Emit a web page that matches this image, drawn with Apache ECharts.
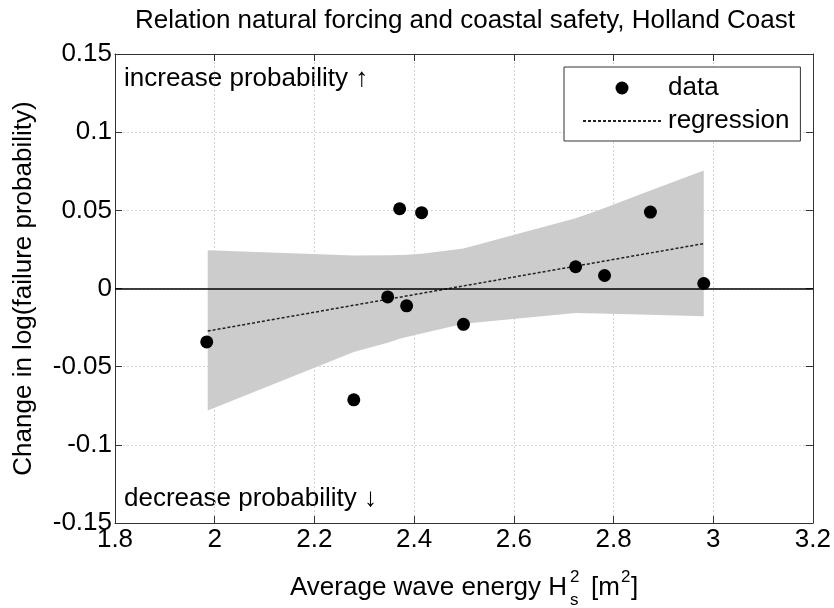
<!DOCTYPE html>
<html>
<head>
<meta charset="utf-8">
<script src="https://cdn.jsdelivr.net/npm/echarts@6/dist/echarts.min.js"></script>
<style>html,body{margin:0;padding:0;background:#fff}#c{width:834px;height:608px}</style>
</head>
<body>
<div id="c"></div>
<script>
// ---- data ----
const dataX = [1.984, 2.279, 2.347, 2.371, 2.385, 2.415, 2.499, 2.724, 2.782, 2.874, 2.981];
const dataY = [-0.0342, -0.0712, -0.0054, 0.0510, -0.0111, 0.0485, -0.0229, 0.0139, 0.0083, 0.0489, 0.0032];
const regX = [1.986, 2.982];
const regY = [-0.0272, 0.0288];
const bandX = [1.986, 2.279, 2.347, 2.371, 2.385, 2.415, 2.499, 2.724, 2.770, 2.874, 2.981];
const bandUpper = [0.0245, 0.0211, 0.0212, 0.0214, 0.0216, 0.0222, 0.0256, 0.0449, 0.0500, 0.0627, 0.0754];
const bandLower = [-0.0780, -0.0406, -0.0347, -0.0322, -0.0310, -0.0288, -0.0225, -0.0156, -0.0160, -0.0168, -0.0178];
const xTicks = {min: 1.8, max: 3.2, interval: 0.2};
const yTicks = {min: -0.15, max: 0.15, interval: 0.05};

const FONT = '"Liberation Sans", Arial, sans-serif';
const FS = 26;
const chart = echarts.init(document.getElementById('c'), null, {renderer: 'canvas'});

const scatterData = dataX.map((x, i) => [x, dataY[i]]);
const regData = regX.map((x, i) => [x, regY[i]]);

const axisLineStyle = {color: '#333', width: 1};
const baseX = {
  type: 'value', min: xTicks.min, max: xTicks.max, interval: xTicks.interval,
  axisLine: {show: true, onZero: false, lineStyle: axisLineStyle},
  axisTick: {show: true, inside: true, length: 7, lineStyle: axisLineStyle}
};
const baseY = {
  type: 'value', min: yTicks.min, max: yTicks.max, interval: yTicks.interval,
  axisLine: {show: true, onZero: false, lineStyle: axisLineStyle},
  axisTick: {show: true, inside: true, length: 7, lineStyle: axisLineStyle}
};

const option = {
  animation: false,
  backgroundColor: '#fff',
  textStyle: {fontFamily: FONT},
  grid: {left: 115, right: 19, top: 54, bottom: 85, containLabel: false},
  xAxis: [
    Object.assign({}, baseX, {
      position: 'bottom',
      axisLabel: {show: true, margin: 4, color: '#000', fontSize: FS, fontFamily: FONT},
      splitLine: {show: true, lineStyle: {color: '#d4d4d4', type: [2, 2], width: 1}}
    }),
    Object.assign({}, baseX, {
      position: 'top',
      axisLabel: {show: false},
      splitLine: {show: false}
    })
  ],
  yAxis: [
    Object.assign({}, baseY, {
      position: 'left',
      name: 'Change in log(failure probability)',
      nameLocation: 'middle', nameGap: 78,
      nameTextStyle: {fontSize: FS, color: '#000', fontFamily: FONT},
      axisLabel: {show: true, margin: 3, color: '#000', fontSize: FS, fontFamily: FONT},
      splitLine: {show: true, lineStyle: {color: '#d4d4d4', type: [2, 2], width: 1}}
    }),
    Object.assign({}, baseY, {
      position: 'right',
      axisLabel: {show: false},
      splitLine: {show: false}
    })
  ],
  legend: {
    data: [
      {name: 'data'},
      {name: 'regression', itemStyle: {opacity: 0}}
    ],
    orient: 'vertical',
    left: 564, top: 67,
    padding: [8, 11, 7, 18],
    itemWidth: 78, itemHeight: 13, itemGap: 7,
    backgroundColor: '#fff',
    borderColor: '#333', borderWidth: 1, borderRadius: 0,
    textStyle: {fontSize: FS, color: '#000', fontFamily: FONT, lineHeight: 26, padding: [0, 0, 0, 2]}
  },
  series: [
    {
      name: 'band',
      type: 'custom',
      silent: true,
      z: 1,
      data: [[bandX[0], bandUpper[0]]],
      renderItem: function (params, api) {
        const pts = [];
        for (let i = 0; i < bandX.length; i++) pts.push(api.coord([bandX[i], bandUpper[i]]));
        for (let i = bandX.length - 1; i >= 0; i--) pts.push(api.coord([bandX[i], bandLower[i]]));
        return {type: 'polygon', shape: {points: pts}, style: {fill: '#cccccc', stroke: null}};
      }
    },
    {
      name: 'regression',
      type: 'line',
      z: 3,
      data: regData,
      symbol: 'none',
      showSymbol: false,
      lineStyle: {color: '#222', width: 1.5, type: [3, 2]},
      itemStyle: {color: '#222'},
      markLine: {
        silent: true, symbol: 'none',
        label: {show: false},
        lineStyle: {color: '#000', width: 1.5, type: 'solid'},
        data: [{yAxis: 0}]
      }
    },
    {
      name: 'data',
      type: 'scatter',
      z: 5,
      data: scatterData,
      symbol: 'circle',
      symbolSize: 13,
      itemStyle: {color: '#000', opacity: 1}
    }
  ],
  graphic: [
    {type: 'text', x: 465, y: 21, style: {text: 'Relation natural forcing and coastal safety, Holland Coast', font: FS + 'px ' + FONT, fill: '#000', textAlign: 'center', textVerticalAlign: 'middle'}},
    {type: 'text', x: 124, y: 79, style: {text: 'increase probability \u2191', font: FS + 'px ' + FONT, fill: '#000', textAlign: 'left', textVerticalAlign: 'middle'}},
    {type: 'text', x: 124, y: 499, style: {text: 'decrease probability \u2193', font: FS + 'px ' + FONT, fill: '#000', textAlign: 'left', textVerticalAlign: 'middle'}},
    {type: 'text', x: 567, y: 588, style: {text: 'Average wave energy H', font: FS + 'px ' + FONT, fill: '#000', textAlign: 'right', textVerticalAlign: 'middle'}},
    {type: 'text', x: 570, y: 577, style: {text: '2', font: '17px ' + FONT, fill: '#000', textAlign: 'left', textVerticalAlign: 'middle'}},
    {type: 'text', x: 570, y: 600, style: {text: 's', font: '17px ' + FONT, fill: '#000', textAlign: 'left', textVerticalAlign: 'middle'}},
    {type: 'text', x: 591, y: 588, style: {text: '[m', font: FS + 'px ' + FONT, fill: '#000', textAlign: 'left', textVerticalAlign: 'middle'}},
    {type: 'text', x: 621, y: 577, style: {text: '2', font: '17px ' + FONT, fill: '#000', textAlign: 'left', textVerticalAlign: 'middle'}},
    {type: 'text', x: 631, y: 588, style: {text: ']', font: FS + 'px ' + FONT, fill: '#000', textAlign: 'left', textVerticalAlign: 'middle'}}
  ]
};
chart.setOption(option);
</script>
</body>
</html>
